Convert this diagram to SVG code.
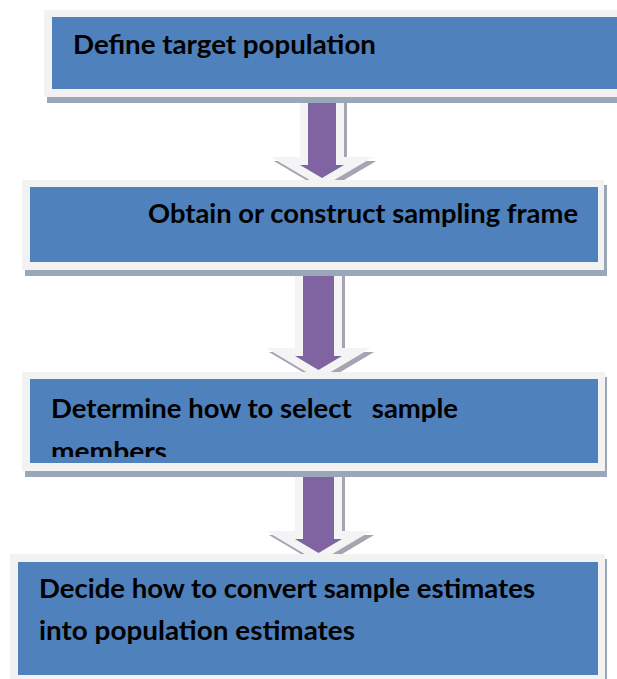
<svg xmlns="http://www.w3.org/2000/svg" width="617" height="679" viewBox="0 0 617 679">
<style>
.shadow{fill:#9aa7b8}
.frame{fill:#f2f2f2}
.box{fill:#4f81bd}
.lbl{font-family:Lato,"Liberation Sans",sans-serif;font-weight:700;font-size:26px;fill:#000;white-space:pre}
.ash{fill:#a7a3b3;stroke:#a7a3b3;stroke-width:16;stroke-linejoin:miter;stroke-miterlimit:10}
.awh{fill:#f4f4f4;stroke:#f4f4f4;stroke-width:16;stroke-linejoin:miter;stroke-miterlimit:10}
.apu{fill:#8064a2}
</style>
<defs>
<clipPath id="clip3"><rect x="30" y="379" width="568" height="78"/></clipPath>
</defs>
<rect width="617" height="679" fill="#fff"/>
<g id="connectors">
  <g id="arrow1">
    <path class="ash" transform="translate(3,4)" d="M308 97 H336 V165 H344 L322 178 L300 165 H308 Z"/>
    <path class="awh" d="M308 97 H336 V165 H344 L322 178 L300 165 H308 Z"/>
    <path class="apu" d="M308 97 H336 V165 H344 L322 178 L300 165 H308 Z"/>
  </g>
  <g id="arrow2">
    <path class="ash" transform="translate(3,4)" d="M303 270 H334 V356 H342 L318.5 370 L295 356 H303 Z"/>
    <path class="awh" d="M303 270 H334 V356 H342 L318.5 370 L295 356 H303 Z"/>
    <path class="apu" d="M303 270 H334 V356 H342 L318.5 370 L295 356 H303 Z"/>
  </g>
  <g id="arrow3">
    <path class="ash" transform="translate(3,4)" d="M303 471 H334 V539 H342 L318.5 553 L295 539 H303 Z"/>
    <path class="awh" d="M303 471 H334 V539 H342 L318.5 553 L295 539 H303 Z"/>
    <path class="apu" d="M303 471 H334 V539 H342 L318.5 553 L295 539 H303 Z"/>
  </g>
</g>
<g id="node1">
  <rect class="shadow" x="47" y="14" width="580" height="89"/>
  <rect class="frame" x="44" y="10" width="580" height="87"/>
  <rect class="box" x="52" y="17" width="570" height="72"/>
  <text class="lbl" x="73" y="54" textLength="303" lengthAdjust="spacingAndGlyphs">Define target population</text>
</g>
<g id="node2">
  <rect class="shadow" x="25" y="185" width="582" height="91"/>
  <rect class="frame" x="22" y="180" width="582" height="90"/>
  <rect class="box" x="30" y="187" width="568" height="75"/>
  <text class="lbl" x="148" y="223" textLength="430" lengthAdjust="spacingAndGlyphs">Obtain or construct sampling frame</text>
</g>
<g id="node3">
  <rect class="shadow" x="25" y="377" width="582" height="100"/>
  <rect class="frame" x="22" y="372" width="583" height="99"/>
  <rect class="box" x="30" y="379" width="568" height="84"/>
  <g clip-path="url(#clip3)">
    <text class="lbl" x="51" y="418" textLength="407" lengthAdjust="spacingAndGlyphs">Determine how to select   sample</text>
    <text class="lbl" x="51" y="461" textLength="116" lengthAdjust="spacingAndGlyphs">members</text>
  </g>
</g>
<g id="node4">
  <rect class="shadow" x="13" y="559" width="594" height="130"/>
  <rect class="frame" x="10" y="554" width="595" height="130"/>
  <rect class="box" x="18" y="562" width="580" height="113"/>
  <text class="lbl" x="39" y="598" textLength="496" lengthAdjust="spacingAndGlyphs">Decide how to convert sample estimates</text>
  <text class="lbl" x="39" y="640" textLength="316" lengthAdjust="spacingAndGlyphs">into population estimates</text>
</g>
</svg>
